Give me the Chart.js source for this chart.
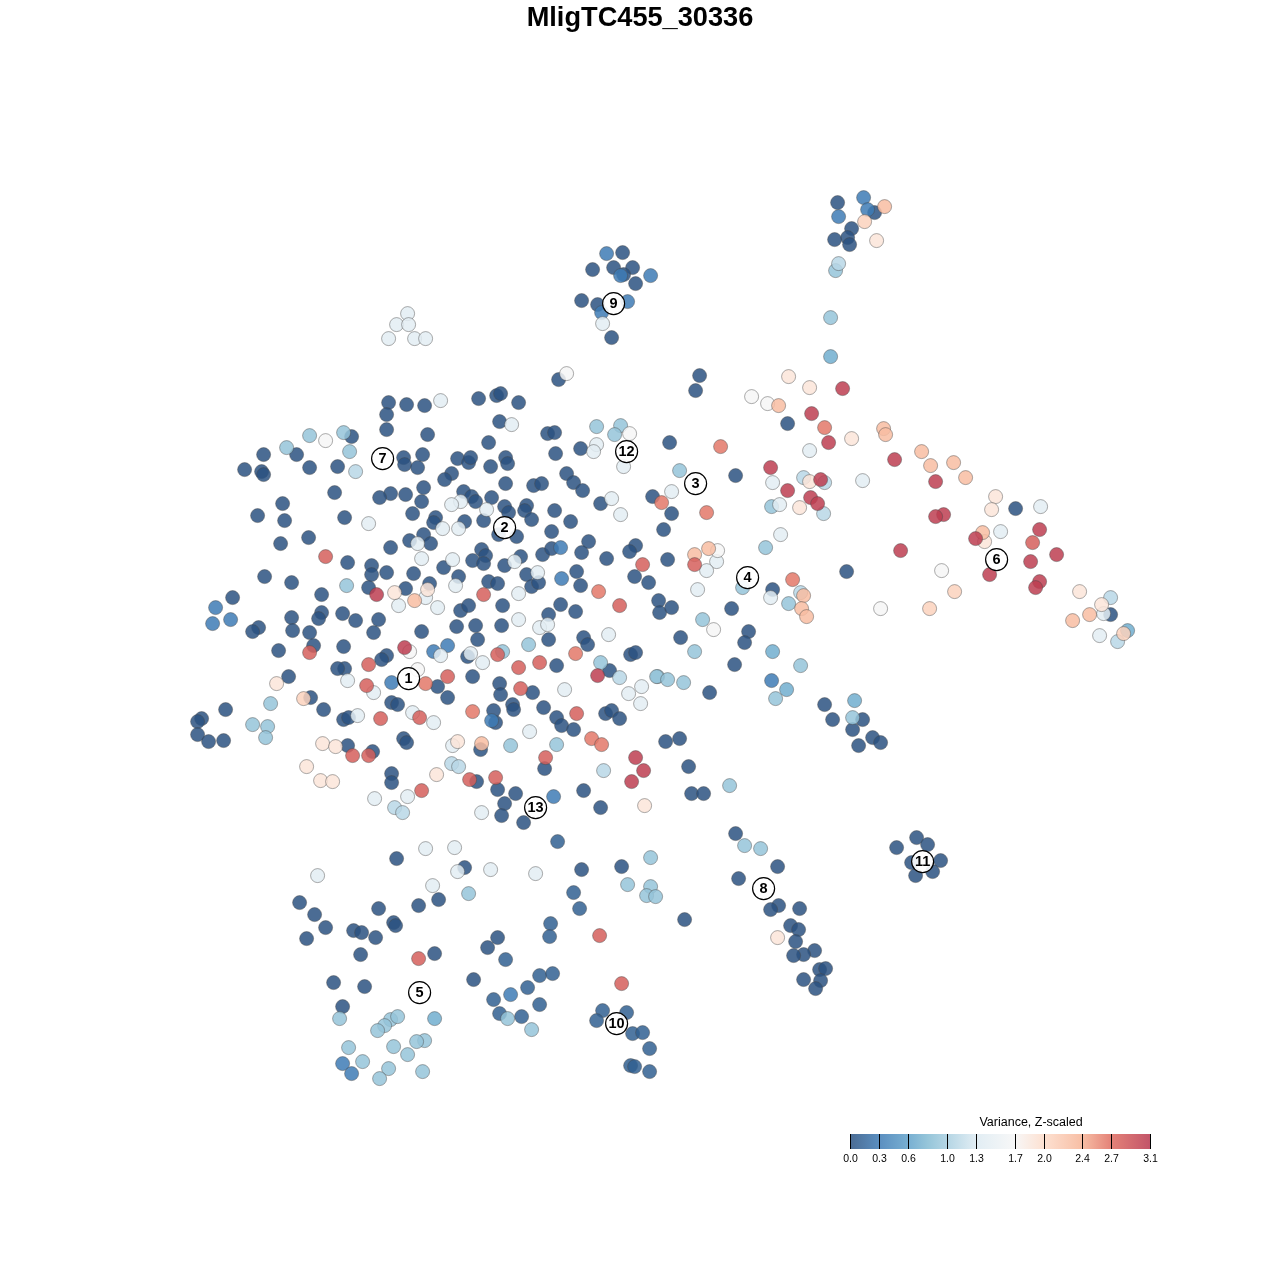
<!DOCTYPE html>
<html>
<head>
  <meta charset="UTF-8">
  <title>MligTC455_30336</title>
  <script src="https://cdn.jsdelivr.net/npm/chart.js"></script>
  <style>
    body { margin: 0; background: #fff; }
  </style>
</head>
<body>
  <canvas id="chart" width="1280" height="1280"></canvas>

  <script>
    const chartTitle = 'MligTC455_30336';
    const legendTitle = 'Variance, Z-scaled';
    const colorTicks = [0.0, 0.3, 0.6, 1.0, 1.3, 1.7, 2.0, 2.4, 2.7, 3.1];

    // cells, grouped by variance as [x, y]
    const var00 = [[837,202],[622,252],[592,269],[613,267],[632,267],[623,274],[635,283],[581,300],[597,304],[611,337],[874,212],[851,228],[847,237],[834,239],[849,244],
      [388,402],[406,404],[424,405],[478,398],[496,395],[500,393],[518,402],[558,379],[499,421],[386,414],[386,429],[351,436],[427,434],[488,442],[547,433],[554,432],[580,448],[555,453],
      [422,454],[403,457],[404,464],[417,467],[457,458],[468,462],[470,457],[490,466],[505,457],[507,463],[566,473],[573,482],[582,490],[451,473],[444,479],[505,483],[533,485],[541,483],
      [423,487],[390,493],[379,497],[405,494],[421,501],[463,491],[471,496],[475,501],[491,497],[412,513],[344,517],[435,517],[433,522],[464,521],[483,520],[504,506],[508,512],[526,505],[524,510],[531,519],[554,510],[570,521],[600,503],[652,496],
      [498,534],[516,536],[551,531],[423,534],[409,540],[430,543],[390,547],[347,562],[481,549],[485,555],[472,560],[483,563],[443,567],[520,556],[504,565],[542,554],[551,548],[588,541],[581,552],[606,558],[635,545],[629,551],
      [371,565],[371,574],[386,572],[413,573],[458,576],[526,574],[531,586],[538,582],[576,571],[580,585],[634,576],[648,582],[368,587],[405,588],[429,583],[488,581],[497,583],
      [502,605],[460,610],[468,605],[560,604],[575,611],[548,614],[378,619],[355,620],[342,613],[373,632],[421,631],[456,626],[475,625],[501,625],[477,639],[548,639],[583,637],[587,644],
      [343,646],[467,656],[556,665],[630,654],[635,652],[386,655],[381,659],[344,668],[437,686],[447,697],[472,676],[499,683],[500,694],[532,692],[609,670],
      [391,702],[397,704],[493,710],[495,722],[512,704],[513,709],[543,707],[556,717],[561,725],[573,729],[605,713],[611,710],[619,718],[544,768],[403,738],[406,742],[480,749],[391,773],[391,782],[476,781],[497,789],[515,793],[504,803],[501,815],[523,822],[583,790],[600,807],
      [343,719],[348,717],[347,745],[372,751],
      [296,454],[263,454],[244,469],[261,471],[263,474],[309,467],[337,466],[334,492],[282,503],[257,515],[284,520],[308,537],[280,543],[264,576],[291,582],[321,594],[232,597],[291,617],[292,630],[321,612],[318,618],[309,632],[258,627],[252,631],[278,650],[313,645],[337,668],[288,676],[310,697],[225,709],[323,709],[201,718],[197,721],[197,734],[208,741],[223,740],
      [699,375],[695,390],[787,423],[669,442],[735,475],[671,513],[663,529],[667,559],[846,571],[731,608],[658,600],[659,612],[671,607],[748,631],[744,642],[680,637],[734,664],[772,589],
      [1015,508],[1110,614],
      [709,692],[824,704],[832,719],[862,719],[852,729],[872,737],[880,742],[858,745],[665,741],[679,738],[688,766],[691,793],[703,793],[735,833],[777,866],[738,878],[778,905],[770,909],[799,908],[684,919],[790,925],[798,929],[795,941],[814,950],[803,954],[793,955],[819,969],[825,968],[803,979],[820,980],[815,988],
      [916,837],[927,844],[896,847],[911,862],[940,860],[932,871],[915,875],
      [396,858],[464,867],[438,899],[418,905],[299,902],[314,914],[378,908],[325,927],[306,938],[353,930],[361,932],[375,937],[393,922],[395,925],[360,954],[434,953],[497,937],[487,947],[333,982],[364,986],[473,979],[342,1006],[581,869],[621,866]];
    const var01 = [[505,959],[539,975],[552,973],[527,987],[493,999],[539,1004],[499,1013],[521,1016],[557,841],[573,892],[579,908],[550,923],[549,936],[602,1010],[626,1012],[596,1020],[632,1033],[642,1032],[649,1048],[630,1065],[634,1066],[649,1071]];
    const var03 = [[606,253],[620,275],[650,275],[627,301],[601,312],[863,197],[867,209],[838,216],[560,547],[561,578],[433,651],[447,645],[391,682],[491,720],[553,796],[215,607],[212,623],[230,619],[510,994],[342,1063],[351,1073],[771,680]];
    const var07 = [[830,356],[772,651],[786,689],[854,700],[434,1018],[1127,630]];
    const var09 = [[830,317],[835,270],[596,426],[620,425],[614,434],[349,451],[346,585],[528,644],[502,651],[600,662],[657,676],[309,435],[343,432],[286,447],[679,470],[771,506],[765,547],[742,587],[788,603],[702,619],[694,651],[800,665],[656,676],[667,679],[683,682],[775,698],[852,717],[729,785],[744,845],[760,848],[270,703],[252,724],[267,726],[265,737],
      [510,745],[556,744],[468,893],[650,857],[627,884],[650,886],[646,895],[655,896],[339,1018],[390,1019],[384,1025],[397,1016],[377,1030],[424,1040],[416,1041],[393,1046],[348,1047],[407,1054],[362,1061],[388,1068],[379,1078],[422,1071],[507,1018],[531,1029]];
    const var11 = [[838,263],[355,471],[803,477],[824,482],[823,513],[800,592],[603,770],[619,677],[451,763],[458,766],[394,807],[402,812],[1110,597],[1117,641]];
    const var14 = [[602,323],[407,313],[396,324],[408,324],[388,338],[414,338],[425,338],[440,400],[511,424],[596,444],[593,451],[623,466],[460,501],[451,504],[486,509],[368,523],[442,528],[458,528],[611,498],[620,514],[417,543],[421,558],[452,559],[514,561],[537,572],[425,597],[398,605],[437,607],[455,585],[518,593],[518,619],[539,627],[547,624],[608,634],[440,655],[470,653],[482,662],[347,680],[373,692],[564,689],[641,686],[628,693],[640,703],[412,712],[433,722],[529,731],[452,745],[357,715],[374,798],[407,796],[481,812],
      [809,450],[772,482],[862,480],[671,491],[779,504],[780,534],[716,561],[706,570],[697,589],[770,597],[1040,506],[1000,531],[1103,613],[1099,635],[425,848],[454,847],[317,875],[457,871],[490,869],[535,873],[432,885]];
    const var17 = [[566,373],[629,433],[325,440],[409,651],[417,669],[751,396],[767,403],[717,550],[713,629],[880,608],[941,570]];
    const var19 = [[876,240],[995,496],[991,509],[984,541],[1079,591],[1101,604],[394,592],[427,589],[276,683],[322,743],[335,746],[306,766],[320,780],[332,781],[457,741],[436,774],[644,805],[777,937],[809,481],[809,387],[788,376],[851,438],[799,507]];
    const var21 = [[864,221],[303,698],[954,591],[929,608],[1123,633]];
    const var23 = [[884,206],[414,600],[481,743],[778,405],[883,428],[885,434],[694,554],[708,548],[803,595],[801,608],[806,616],[921,451],[930,465],[953,462],[965,477],[982,532],[1089,614],[1072,620]];
    const var26 = [[598,591],[575,653],[472,711],[591,738],[601,744],[425,683],[824,427],[720,446],[706,512],[661,502],[792,579]];
    const var28 = [[325,556],[309,652],[642,564],[483,594],[619,605],[497,654],[539,662],[518,667],[368,664],[366,685],[447,676],[520,688],[380,718],[419,717],[576,713],[545,757],[352,755],[368,755],[469,779],[495,777],[421,790],[418,958],[599,935],[621,983],[1032,542],[694,564]];
    const var30 = [[376,594],[404,647],[597,675],[635,757],[643,770],[631,781],[842,388],[811,413],[828,442],[894,459],[770,467],[787,490],[820,479],[810,497],[817,503],[935,481],[943,514],[935,516],[1039,529],[975,538],[900,550],[1056,554],[1030,561],[989,574],[1039,581],[1035,587]];

    const cellGroups = [
      [0.0, var00], [0.1, var01], [0.3, var03], [0.7, var07], [0.9, var09], [1.1, var11], [1.4, var14],
      [1.7, var17], [1.9, var19], [2.1, var21], [2.3, var23], [2.65, var26], [2.8, var28], [3.05, var30]
    ];

    // numbered cluster badges
    const clusterIds = ['1', '2', '3', '4', '5', '6', '7', '8', '9', '10', '11', '12', '13'];
    const clusterX = [408, 504, 695, 747, 419, 996, 382, 763, 613, 616, 922, 626, 535];
    const clusterY = [678, 527, 483, 577, 992, 559, 458, 888, 303, 1023, 861, 451, 807];

    const colorStops = [
      [0.0, [43, 82, 129]], [0.3, [62, 123, 181]], [0.6, [96, 161, 202]], [0.8, [131, 187, 211]],
      [1.3, [220, 234, 242]], [1.7, [246, 246, 246]], [2.0, [253, 220, 202]], [2.4, [246, 179, 149]],
      [2.7, [223, 108, 96]], [3.1, [184, 55, 79]]
    ];

    function varColor(v) {
      for (let i = 1; i < colorStops.length; i++) {
        const [v0, c0] = colorStops[i - 1];
        const [v1, c1] = colorStops[i];
        if (v <= v1) {
          const t = (v - v0) / (v1 - v0);
          const c = c0.map((a, k) => Math.round(a + (c1[k] - a) * t));
          return `rgba(${c[0]},${c[1]},${c[2]},0.85)`;
        }
      }
      return 'rgba(184,55,79,0.85)';
    }

    const cells = [];
    const cellColors = [];
    cellGroups.forEach(([v, list]) => {
      list.forEach(p => {
        cells.push({ x: p[0], y: p[1] });
        cellColors.push(varColor(v));
      });
    });

    // number inside each badge and the variance colour bar
    const overlay = {
      id: 'overlay',
      afterDatasetsDraw(chart) {
        const ctx = chart.ctx;
        const xs = chart.scales.x;
        const ys = chart.scales.y;
        ctx.save();
        ctx.textAlign = 'center';
        ctx.textBaseline = 'middle';
        ctx.fillStyle = '#000';
        ctx.font = 'bold 14.5px "Liberation Sans"';
        clusterIds.forEach((id, i) => {
          ctx.fillText(id, xs.getPixelForValue(clusterX[i]), ys.getPixelForValue(clusterY[i]) + 0.5);
        });

        const left = Math.round(xs.getPixelForValue(849.4)), right = Math.round(xs.getPixelForValue(1149.4));
        const top = Math.round(ys.getPixelForValue(1133.4)), bottom = Math.round(ys.getPixelForValue(1148.4));
        const vmax = 3.1;
        const grad = ctx.createLinearGradient(left, 0, right, 0);
        colorStops.forEach(s => grad.addColorStop(s[0] / vmax, varColor(s[0])));
        ctx.fillStyle = grad;
        ctx.fillRect(left, top, right - left, bottom - top);

        ctx.strokeStyle = '#000';
        ctx.lineWidth = 1;
        ctx.fillStyle = '#000';
        ctx.font = '10.5px "Liberation Sans"';
        colorTicks.forEach(t => {
          const px = Math.round(left + (right - left) * t / vmax) + 0.5;
          ctx.beginPath();
          ctx.moveTo(px, top);
          ctx.lineTo(px, bottom);
          ctx.stroke();
          ctx.fillText(t.toFixed(1), px, ys.getPixelForValue(1158.8));
        });
        ctx.font = '12.5px "Liberation Sans"';
        ctx.fillText(legendTitle, xs.getPixelForValue(1030.5), ys.getPixelForValue(1122));
        ctx.restore();
      }
    };

    new Chart(document.getElementById('chart'), {
      type: 'scatter',
      data: {
        datasets: [
          {
            label: 'clusters',
            data: clusterX.map((x, i) => ({ x: x, y: clusterY[i] })),
            pointRadius: 11,
            pointBackgroundColor: 'rgba(255,255,255,0.9)',
            pointBorderColor: '#000',
            pointBorderWidth: 1.2
          },
          {
            label: 'cells',
            data: cells,
            pointRadius: 7,
            pointBackgroundColor: cellColors,
            pointBorderColor: 'rgba(70,70,70,0.45)',
            pointBorderWidth: 1
          }
        ]
      },
      options: {
        responsive: false,
        animation: false,
        layout: { autoPadding: false, padding: 0 },
        scales: {
          x: { type: 'linear', min: -0.6, max: 1279.4, display: false },
          y: { type: 'linear', min: 39.4, max: 1279.4, reverse: true, display: false }
        },
        plugins: {
          legend: { display: false },
          tooltip: { enabled: false },
          title: {
            display: true,
            text: chartTitle,
            color: '#000',
            font: { family: '"Liberation Sans"', size: 27.2, weight: 'bold', lineHeight: 1.2 },
            padding: { top: 2, bottom: 5.36 }
          }
        }
      },
      plugins: [overlay]
    });
  </script>
</body>
</html>
